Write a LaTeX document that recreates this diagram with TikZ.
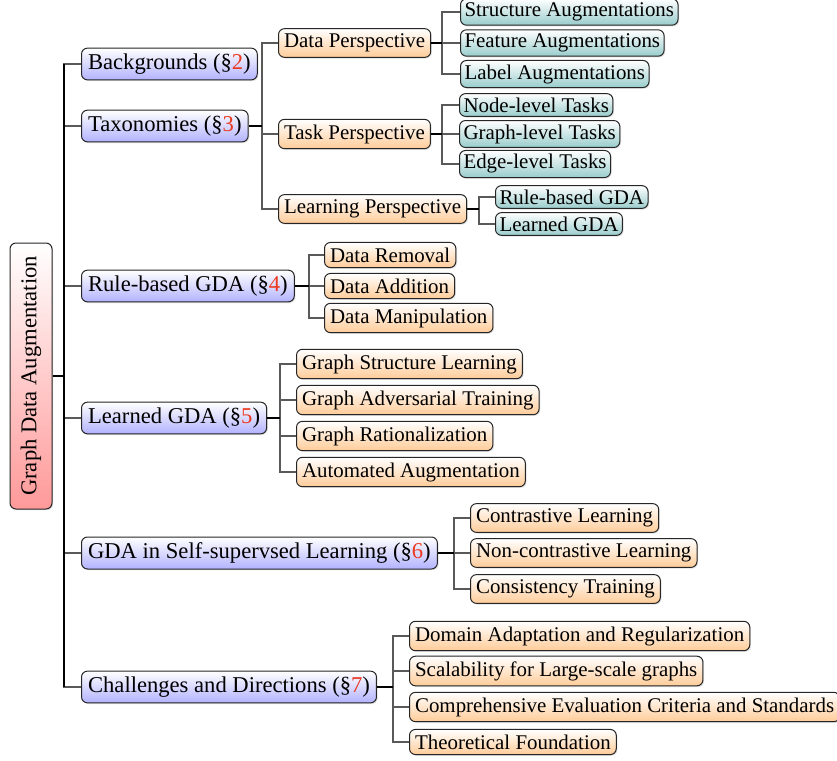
\documentclass[tikz,border=0pt]{standalone}
\usepackage{fontspec}
\setmainfont{Liberation Serif}
\usetikzlibrary{calc,shadows}
\definecolor{secred}{rgb}{0.92,0.22,0.12}
\newcommand{\sref}[1]{(\S\textcolor{secred}{#1})}
\tikzset{
  box/.style={draw=black!85, rounded corners=3pt, anchor=west, font=\fontsize{10.45}{12}\selectfont,
    line width=0.5pt, drop shadow={opacity=0.25, shadow xshift=0.6pt, shadow yshift=-0.6pt}},
  rootbox/.style={box, anchor=center, rotate=90, top color=white, bottom color=red!40,
    minimum width=133pt, minimum height=21pt, font=\fontsize{11.3}{13}\selectfont},
  lvone/.style={box, top color=white, bottom color=blue!30, inner xsep=3.3pt, inner ysep=2.8pt,
    font=\fontsize{11.3}{13}\selectfont},
  lvtwo/.style={box, top color=white, bottom color=orange!40, inner xsep=2.8pt, inner ysep=2.6pt},
  lvthree/.style={box, top color=white, bottom color=teal!40, inner xsep=2pt, inner ysep=2pt},
  branch/.style={draw=black!65, line width=0.55pt},
  stub/.style={draw=black, line width=0.7pt},
}
\begin{document}
\begin{tikzpicture}[x=0.5pt,y=-0.5pt]
\useasboundingbox (0,0) rectangle (837,761);
% root
\node[rootbox] (root) at (31,376) {Graph Data Augmentation};
% level 1
\node[lvone] (bg) at (81,64) {Backgrounds \sref{2}};
\node[lvone] (tax) at (81,126) {Taxonomies \sref{3}};
\node[lvone] (rb) at (81,286) {Rule-based GDA \sref{4}};
\node[lvone] (lg) at (81,418) {Learned GDA \sref{5}};
\node[lvone] (ssl) at (81,553) {GDA in Self-supervsed Learning \sref{6}};
\node[lvone] (ch) at (81,687) {Challenges and Directions \sref{7}};
% taxonomies children
\node[lvtwo] (dp) at (278,43) {Data Perspective};
\node[lvtwo] (tp) at (278,134) {Task Perspective};
\node[lvtwo] (lp) at (278,209) {Learning Perspective};
% data perspective children
\node[lvthree] (sa) at (460,12) {Structure Augmentations};
\node[lvthree] (fa) at (460,43) {Feature Augmentations};
\node[lvthree] (la) at (460,74) {Label Augmentations};
% task perspective children
\node[lvthree] (nt) at (459,105) {Node-level Tasks};
\node[lvthree] (gt) at (459,134) {Graph-level Tasks};
\node[lvthree] (et) at (459,164) {Edge-level Tasks};
% learning perspective children
\node[lvthree] (rg) at (495,197) {Rule-based GDA};
\node[lvthree] (lgd) at (495,224) {Learned GDA};
% rule-based children
\node[lvtwo] (dr) at (324,255) {Data Removal};
\node[lvtwo] (da) at (324,286) {Data Addition};
\node[lvtwo] (dm) at (324,318) {Data Manipulation};
% learned children
\node[lvtwo] (gsl) at (296,364) {Graph Structure Learning};
\node[lvtwo] (gat) at (296,400) {Graph Adversarial Training};
\node[lvtwo] (gr) at (296,436) {Graph Rationalization};
\node[lvtwo] (aa) at (296,472) {Automated Augmentation};
% ssl children
\node[lvtwo] (cl) at (470,518) {Contrastive Learning};
\node[lvtwo] (ncl) at (470,553) {Non-contrastive Learning};
\node[lvtwo] (ct) at (470,589) {Consistency Training};
% challenges children
\node[lvtwo] (dad) at (409,636) {Domain Adaptation and Regularization};
\node[lvtwo] (sc) at (409,671) {Scalability for Large-scale graphs};
\node[lvtwo] (ce) at (409,707) {Comprehensive Evaluation Criteria and Standards};
\node[lvtwo] (tf) at (409,742) {Theoretical Foundation};

% vertical-line positions
\coordinate (x0) at ($(bg.west)+(-17,0)$);
\coordinate (x1) at ($(dp.west)+(-16,0)$);
\coordinate (x2) at ($(sa.west)+(-18,0)$);
\coordinate (x3) at ($(nt.west)+(-17,0)$);
\coordinate (x4) at ($(rg.west)+(-16,0)$);
\coordinate (x5) at ($(dr.west)+(-15,0)$);
\coordinate (x6) at ($(gsl.west)+(-16,0)$);
\coordinate (x7) at ($(cl.west)+(-16,0)$);
\coordinate (x8) at ($(dad.west)+(-16,0)$);

% connectors
\foreach \c in {bg,tax,rb,lg,ssl,ch} \draw[branch] (root.south -| x0) |- (\c.west);
\draw[stub] (bg.west -| x0) -- (ch.west -| x0);
\draw[stub] (root.south) -- (root.south -| x0);

\foreach \c in {dp,tp,lp} \draw[branch] (tax.east -| x1) |- (\c.west);
\draw[stub] (tax.east) -- (tax.east -| x1);

\foreach \c in {sa,fa,la} \draw[branch] (dp.east -| x2) |- (\c.west);
\draw[stub] (dp.east) -- (dp.east -| x2);

\foreach \c in {nt,gt,et} \draw[branch] (tp.east -| x3) |- (\c.west);
\draw[stub] (tp.east) -- (tp.east -| x3);

\foreach \c in {rg,lgd} \draw[branch] (lp.east -| x4) |- (\c.west);
\draw[stub] (lp.east) -- (lp.east -| x4);

\foreach \c in {dr,da,dm} \draw[branch] (rb.east -| x5) |- (\c.west);
\draw[stub] (rb.east) -- (rb.east -| x5);

\foreach \c in {gsl,gat,gr,aa} \draw[branch] (lg.east -| x6) |- (\c.west);
\draw[stub] (lg.east) -- (lg.east -| x6);

\foreach \c in {cl,ncl,ct} \draw[branch] (ssl.east -| x7) |- (\c.west);
\draw[stub] (ssl.east) -- (ssl.east -| x7);

\foreach \c in {dad,sc,ce,tf} \draw[branch] (ch.east -| x8) |- (\c.west);
\draw[stub] (ch.east) -- (ch.east -| x8);
\end{tikzpicture}
\end{document}
